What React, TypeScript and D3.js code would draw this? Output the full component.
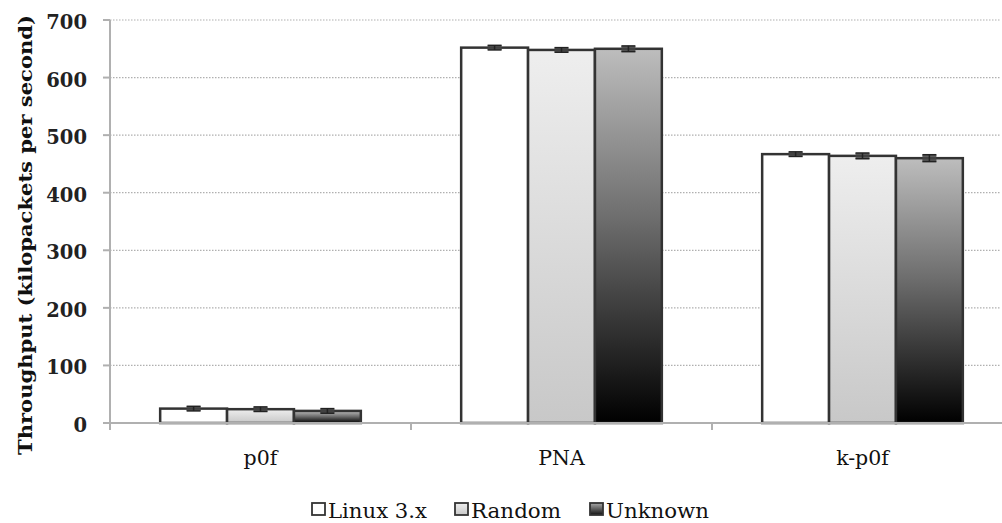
import React from "react";
import * as d3 from "d3";

const categories = ["p0f", "PNA", "k-p0f"];
const seriesNames = ["Linux 3.x", "Random", "Unknown"];
const linuxValues = [25, 652, 467];
const randomValues = [24, 648, 464];
const unknownValues = [21, 650, 460];
const errorValues = [
  [4, 4, 4],
  [4, 4, 5],
  [4, 5, 6],
];
const yTicks = [0, 100, 200, 300, 400, 500, 600, 700];

const W = 1002;
const H = 523;

export default function App() {
  const series = [linuxValues, randomValues, unknownValues];
  const x = d3.scaleBand<string>().domain(categories).range([110, 1013]).paddingInner(1 / 3).paddingOuter(1 / 6);
  const xs = d3.scaleBand<string>().domain(seriesNames).range([0, x.bandwidth()]).padding(0);
  const y = d3.scaleLinear().domain([0, 700]).range([423, 20]);
  const fills = ["#ffffff", "url(#gRandom)", "url(#gUnknown)"];
  const legendFills = ["#ffffff", "url(#gRandomL)", "url(#gUnknownL)"];
  const serif = "'DejaVu Serif', serif";
  const step = x.step();
  const boundaries = d3.range(categories.length + 1).map((i) => 110 + i * step);
  const legendX = [312, 455, 590];
  const legendTextW = [99, 90, 103];

  return (
    <svg width={W} height={H} style={{ position: "absolute", left: 0, top: 0, background: "#fff" }}>
      <defs>
        <linearGradient id="gRandom" x1="0" y1="0" x2="0" y2="1">
          <stop offset="0" stopColor="#eeeeee" />
          <stop offset="1" stopColor="#c8c8c8" />
        </linearGradient>
        <linearGradient id="gUnknown" x1="0" y1="0" x2="0" y2="1">
          <stop offset="0" stopColor="#bdbdbd" />
          <stop offset="0.45" stopColor="#6e6e6e" />
          <stop offset="1" stopColor="#000000" />
        </linearGradient>
        <linearGradient id="gRandomL" x1="0" y1="0" x2="0" y2="1">
          <stop offset="0" stopColor="#eeeeee" />
          <stop offset="1" stopColor="#c8c8c8" />
        </linearGradient>
        <linearGradient id="gUnknownL" x1="0" y1="0" x2="0" y2="1">
          <stop offset="0" stopColor="#aaaaaa" />
          <stop offset="1" stopColor="#111111" />
        </linearGradient>
      </defs>

      {/* gridlines */}
      {yTicks.filter((t) => t > 0).map((t) => (
        <line key={"g" + t} x1={110} x2={1000} y1={y(t)} y2={y(t)} stroke="#b0b0b0" strokeWidth={1.2} strokeDasharray="1.5,1.5" />
      ))}

      {/* y axis */}
      <line x1={110} x2={110} y1={y(700)} y2={y(0) + 7} stroke="#b0b0b0" strokeWidth={2} />
      {yTicks.map((t) => (
        <g key={"t" + t}>
          <line x1={103} x2={110} y1={y(t)} y2={y(t)} stroke="#b0b0b0" strokeWidth={2} />
          <text x={87} y={y(t) + 2} dy="0.36em" textAnchor="end" fontFamily={serif} fontWeight="bold" fontSize={19.5} fill="#222">
            {t}
          </text>
        </g>
      ))}
      <text
        transform={`translate(25,${(15 + 455) / 2}) rotate(-90)`}
        textAnchor="middle"
        fontFamily={serif}
        fontWeight="bold"
        fontSize={19}
        fill="#111"
        dy="0.35em"
        textLength={440}
        lengthAdjust="spacingAndGlyphs"
      >
        Throughput (kilopackets per second)
      </text>

      {/* bars */}
      {categories.map((c, ci) => (
        <g key={c} transform={`translate(${x(c)},0)`}>
          {series.map((vals, si) => {
            const v = vals[ci];
            const bx = xs(seriesNames[si])!;
            const bw = xs.bandwidth();
            return (
              <rect key={si} x={bx} y={y(v)} width={bw} height={y(0) - y(v)} fill={fills[si]} stroke="#333" strokeWidth={2.5} />
            );
          })}
          {series.map((vals, si) => {
            const v = vals[ci];
            const e = errorValues[si][ci];
            const cx = xs(seriesNames[si])! + xs.bandwidth() / 2;
            return (
              <g key={"e" + si}>
                <rect x={cx - 7} y={y(v + e)} width={14} height={y(v - e) - y(v + e)} fill="#444" opacity={0.85} />
                <line x1={cx - 7} x2={cx + 7} y1={y(v + e)} y2={y(v + e)} stroke="#222" strokeWidth={1.5} />
                <line x1={cx - 7} x2={cx + 7} y1={y(v - e)} y2={y(v - e)} stroke="#222" strokeWidth={1.5} />
                <line x1={cx} x2={cx} y1={y(v + e)} y2={y(v - e)} stroke="#222" strokeWidth={1.5} />
              </g>
            );
          })}
        </g>
      ))}

      {/* x axis */}
      <line x1={103} x2={1002} y1={y(0)} y2={y(0)} stroke="#b0b0b0" strokeWidth={2} />
      {boundaries.map((bx, i) => (
        <line key={"xb" + i} x1={bx} x2={bx} y1={y(0)} y2={y(0) + 7} stroke="#b0b0b0" strokeWidth={2} />
      ))}
      {categories.map((c) => (
        <text key={"xl" + c} x={x(c)! + x.bandwidth() / 2} y={465} textAnchor="middle" fontFamily={serif} fontSize={20.5} fill="#111">
          {c}
        </text>
      ))}

      {/* legend */}
      {seriesNames.map((s, i) => (
        <g key={"l" + s}>
          <rect x={legendX[i]} y={503} width={13} height={12} fill={legendFills[i]} stroke="#333" strokeWidth={1.8} />
          <text x={legendX[i] + 16} y={518} fontFamily={serif} fontSize={20} fill="#111" textLength={legendTextW[i]} lengthAdjust="spacingAndGlyphs">
            {s}
          </text>
        </g>
      ))}
    </svg>
  );
}
